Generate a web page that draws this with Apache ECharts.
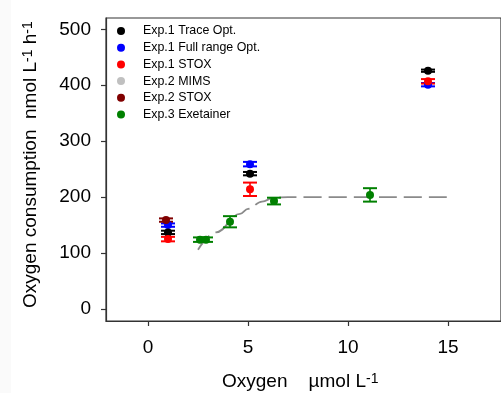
<!DOCTYPE html>
<html>
<head>
<meta charset="utf-8">
<script src="https://cdn.jsdelivr.net/npm/echarts@6/dist/echarts.min.js"></script>
<style>
html,body{margin:0;padding:0;background:#fff;}
#chart{width:501px;height:393px;}
</style>
</head>
<body>
<div id="chart"></div>
<script>
// ---- Data ----
const seriesNames = ['Exp.1 Trace Opt.', 'Exp.1 Full range Opt.', 'Exp.1 STOX', 'Exp.2 MIMS', 'Exp.2 STOX', 'Exp.3 Exetainer'];
const seriesColors = ['#000000', '#0000ff', '#ff0000', '#c0c0c0', '#800000', '#008000'];

const traceX = [1.0, 5.1, 14.0];
const traceY = [137, 242, 426];
const traceErr = [3, 3, 2];

const fullX = [1.0, 5.1, 14.0];
const fullY = [150, 259, 401];
const fullErr = [3, 4, 3];

const stox1X = [1.0, 5.1, 14.0];
const stox1Y = [125, 214, 407];
const stox1Err = [4, 12, 4];

const mimsX = [];
const mimsY = [];
const mimsErr = [];

const stox2X = [0.9];
const stox2Y = [159];
const stox2Err = [3];

const exeX = [2.6, 2.9, 4.1, 6.3, 11.1];
const exeY = [124, 124, 156, 193, 204];
const exeErr = [4, 4, 10, 6, 12];

const fitX = [2.5, 3.4, 4.6, 5.0, 5.7, 6.3, 7.0, 15.0];
const fitY = [106, 137, 170, 179, 192, 199, 200, 200];

const xTicks = [0, 5, 10, 15];
const yTicks = [0, 100, 200, 300, 400, 500];

// ---- Build chart ----
const FONT = 'Liberation Sans, Arial, Helvetica, sans-serif';
const groups = [
  [traceX, traceY, traceErr],
  [fullX, fullY, fullErr],
  [stox1X, stox1Y, stox1Err],
  [mimsX, mimsY, mimsErr],
  [stox2X, stox2Y, stox2Err],
  [exeX, exeY, exeErr]
];
const drawOrder = [1, 0, 2, 3, 4, 5];

function errRender(color) {
  return function (params, api) {
    const x = api.value(0), y = api.value(1), e = api.value(2);
    const top = api.coord([x, y + e]);
    const bot = api.coord([x, y - e]);
    const hw = 7;
    const st = { stroke: color, lineWidth: 1.6 };
    const cap = { stroke: color, lineWidth: 2 };
    return {
      type: 'group',
      children: [
        { type: 'line', shape: { x1: top[0], y1: top[1], x2: bot[0], y2: bot[1] }, style: st },
        { type: 'line', shape: { x1: top[0] - hw, y1: top[1], x2: top[0] + hw, y2: top[1] }, style: cap },
        { type: 'line', shape: { x1: bot[0] - hw, y1: bot[1], x2: bot[0] + hw, y2: bot[1] }, style: cap }
      ]
    };
  };
}

const series = [];
series.push({
  type: 'line',
  name: 'fit',
  data: fitX.map((x, i) => [x, fitY[i]]),
  showSymbol: false,
  smooth: 0.4,
  smoothMonotone: 'x',
  lineStyle: { color: '#8a8a8a', width: 1.8, type: [18, 7] },
  silent: true,
  z: 1
});
drawOrder.forEach(function (gi) {
  const g = groups[gi];
  const data = g[0].map((x, i) => [x, g[1][i], g[2][i]]);
  series.push({
    type: 'custom',
    name: seriesNames[gi] + ' err',
    renderItem: errRender(seriesColors[gi]),
    data: data,
    encode: { x: 0, y: 1 },
    z: 2
  });
  series.push({
    type: 'scatter',
    name: seriesNames[gi],
    data: data.map(d => [d[0], d[1]]),
    symbol: 'circle',
    symbolSize: 8,
    itemStyle: { color: seriesColors[gi], opacity: 1 },
    z: 3
  });
});

const chart = echarts.init(document.getElementById('chart'), null, { renderer: 'canvas' });
chart.setOption({
  animation: false,
  backgroundColor: '#ffffff',
  grid: { left: 106, top: 18, right: -3, bottom: 72, show: true, borderColor: '#333', borderWidth: 1.2, backgroundColor: 'transparent' },
  legend: {
    data: seriesNames.map((n, i) => ({ name: n, icon: 'circle', itemStyle: { color: seriesColors[i] } })),
    orient: 'vertical',
    left: 117,
    top: 24,
    padding: 0,
    itemWidth: 8,
    itemHeight: 8,
    itemGap: 2.7,
    selectedMode: false,
    textStyle: { fontFamily: FONT, fontSize: 12.4, color: '#000', lineHeight: 14, padding: [0, 0, 0, 13] }
  },
  xAxis: {
    type: 'value',
    min: -2.1,
    max: 17.65,
    splitLine: { show: false },
    axisLine: { show: true, onZero: false, lineStyle: { color: '#333', width: 1.2 } },
    axisTick: { show: true, length: 5, customValues: xTicks, lineStyle: { color: '#333', width: 1.2 } },
    axisLabel: { customValues: xTicks, margin: 17, fontFamily: FONT, fontSize: 19, color: '#000' }
  },
  yAxis: {
    type: 'value',
    min: -21.4,
    max: 520.2,
    splitLine: { show: false },
    axisLine: { show: true, onZero: false, lineStyle: { color: '#333', width: 1.2 } },
    axisTick: { show: true, length: 5, customValues: yTicks, lineStyle: { color: '#333', width: 1.2 } },
    axisLabel: { customValues: yTicks, margin: 15, fontFamily: FONT, fontSize: 19, color: '#000' }
  },
  graphic: [
    { type: 'rect', left: 0, top: 0, shape: { width: 11, height: 393 }, style: { fill: '#fafafa' }, z: -10, silent: true },
    {
      type: 'text',
      x: 31, y: 308,
      rotation: Math.PI / 2,
      style: {
        text: 'Oxygen consumption  nmol L{sup|-1} h{sup|-1}',
        fontFamily: FONT, fontSize: 19, fill: '#000',
        align: 'left', verticalAlign: 'middle',
        rich: { sup: { fontFamily: FONT, fontSize: 14, fill: '#000', verticalAlign: 'top', lineHeight: 13 } }
      }
    },
    {
      type: 'text',
      x: 222, y: 382,
      style: {
        text: 'Oxygen    \u00b5mol L{sup|-1}',
        fontFamily: FONT, fontSize: 19, fill: '#000',
        align: 'left', verticalAlign: 'middle',
        rich: { sup: { fontFamily: FONT, fontSize: 14, fill: '#000', verticalAlign: 'top', lineHeight: 13 } }
      }
    }
  ],
  series: series
});
</script>
</body>
</html>
